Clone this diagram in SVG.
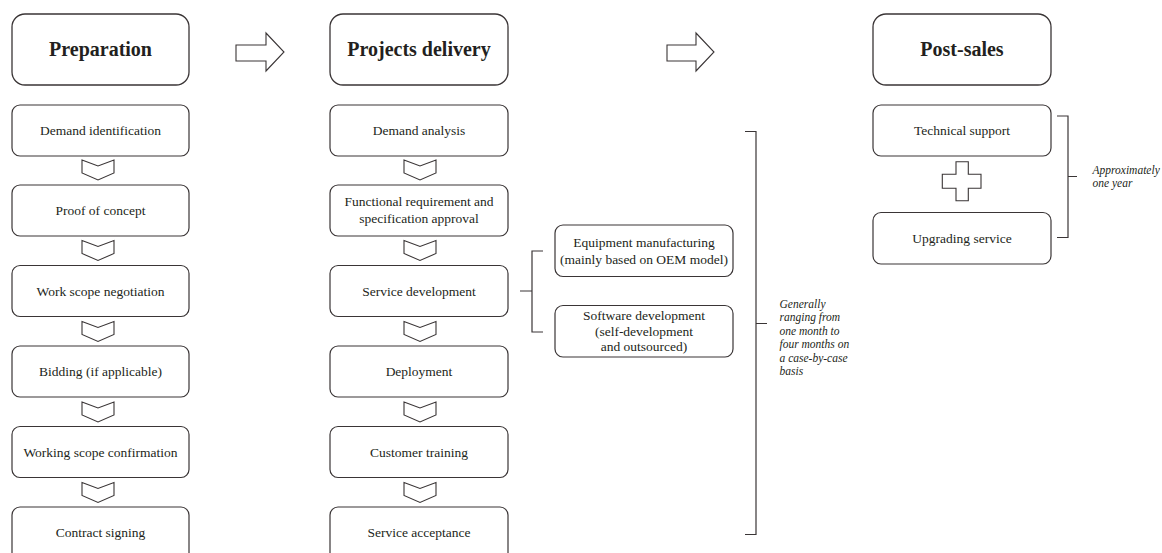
<svg xmlns="http://www.w3.org/2000/svg" xmlns:xlink="http://www.w3.org/1999/xlink" width="1162" height="553" viewBox="0 0 1162 553">
<style>
.hdr{fill:#fff;stroke:#3a3536;stroke-width:1.3}
.box{fill:#fff;stroke:#3a3536;stroke-width:1.2}
.ht{font-family:"Liberation Serif",serif;font-weight:bold;font-size:20px;fill:#231f20;text-anchor:middle}
.bt{font-family:"Liberation Serif",serif;font-size:13.5px;fill:#231f20;text-anchor:middle}
.it{font-family:"Liberation Serif",serif;font-style:italic;font-size:11.5px;fill:#231f20}
.ln{fill:none;stroke:#3a3536;stroke-width:1.2}
.sh{fill:#fff;stroke:#3a3536;stroke-width:1.1;stroke-linejoin:miter}
</style>
<defs>
<path id="chev" d="M0,0 L16,6 L32,0 V13 L16,20 L0,13 Z"/>
</defs>
<rect width="1162" height="553" fill="#fff"/>

<g id="connectors">
<path class="sh" d="M236,45 H266 V33 L284,52 L266,71 V61 H236 Z"/>
<path class="sh" d="M667,45 H696 V33 L714,52 L696,71 V61 H667 Z"/>
<use href="#chev" class="sh" x="82" y="160"/>
<use href="#chev" class="sh" x="82" y="240.5"/>
<use href="#chev" class="sh" x="82" y="321.5"/>
<use href="#chev" class="sh" x="82" y="402"/>
<use href="#chev" class="sh" x="82" y="482.5"/>
<use href="#chev" class="sh" x="404" y="160"/>
<use href="#chev" class="sh" x="404" y="240.5"/>
<use href="#chev" class="sh" x="404" y="321.5"/>
<use href="#chev" class="sh" x="404" y="402"/>
<use href="#chev" class="sh" x="404" y="482.5"/>
<path class="sh" d="M956,161.7 H968.3 V174.3 H981 V188.3 H968.3 V200.7 H956 V188.3 H942.3 V174.3 H956 Z"/>
<path class="ln" d="M543,251 H532 V332 H543 M520,291 H532"/>
<path class="ln" d="M745,131.5 H756 V534.5 H745 M756,323.5 H767"/>
<path class="ln" d="M1057,116 H1068 V237.5 H1057 M1068,176.5 H1077"/>
</g>

<g id="preparation"><rect class="hdr" x="12" y="14" width="177" height="71" rx="13"/><text class="ht" x="100.5" y="56">Preparation</text></g>
<g id="projects-delivery"><rect class="hdr" x="330" y="14" width="178" height="71" rx="13"/><text class="ht" x="419" y="56">Projects delivery</text></g>
<g id="post-sales"><rect class="hdr" x="873" y="14" width="178" height="71" rx="13"/><text class="ht" x="962" y="56">Post-sales</text></g>

<g id="demand-identification"><rect class="box" x="12" y="105" width="177" height="51" rx="8"/><text class="bt" x="100.5" y="135">Demand identification</text></g>
<g id="proof-of-concept"><rect class="box" x="12" y="185" width="177" height="51" rx="8"/><text class="bt" x="100.5" y="215">Proof of concept</text></g>
<g id="work-scope-negotiation"><rect class="box" x="12" y="265.5" width="177" height="51" rx="8"/><text class="bt" x="100.5" y="295.5">Work scope negotiation</text></g>
<g id="bidding"><rect class="box" x="12" y="346" width="177" height="51" rx="8"/><text class="bt" x="100.5" y="376">Bidding (if applicable)</text></g>
<g id="working-scope-confirmation"><rect class="box" x="12" y="426.5" width="177" height="51" rx="8"/><text class="bt" x="100.5" y="456.5">Working scope confirmation</text></g>
<g id="contract-signing"><rect class="box" x="12" y="507" width="177" height="56" rx="8"/><text class="bt" x="100.5" y="537">Contract signing</text></g>

<g id="demand-analysis"><rect class="box" x="330" y="105" width="178" height="51" rx="8"/><text class="bt" x="419" y="135">Demand analysis</text></g>
<g id="functional-requirement"><rect class="box" x="330" y="185" width="178" height="51" rx="8"/><text class="bt" x="419" y="206">Functional requirement and</text><text class="bt" x="419" y="222.5">specification approval</text></g>
<g id="service-development"><rect class="box" x="330" y="265.5" width="178" height="51" rx="8"/><text class="bt" x="419" y="295.5">Service development</text></g>
<g id="deployment"><rect class="box" x="330" y="346" width="178" height="51" rx="8"/><text class="bt" x="419" y="376">Deployment</text></g>
<g id="customer-training"><rect class="box" x="330" y="426.5" width="178" height="51" rx="8"/><text class="bt" x="419" y="456.5">Customer training</text></g>
<g id="service-acceptance"><rect class="box" x="330" y="507" width="178" height="56" rx="8"/><text class="bt" x="419" y="537">Service acceptance</text></g>

<g id="equipment-manufacturing"><rect class="box" x="555" y="225" width="178" height="51.5" rx="8"/><text class="bt" x="644" y="247">Equipment manufacturing</text><text class="bt" x="644" y="263.5">(mainly based on OEM model)</text></g>
<g id="software-development"><rect class="box" x="555" y="305.5" width="178" height="51.5" rx="8"/><text class="bt" x="644" y="320">Software development</text><text class="bt" x="644" y="336">(self-development</text><text class="bt" x="644" y="351">and outsourced)</text></g>

<g id="technical-support"><rect class="box" x="873" y="105" width="178" height="51" rx="8"/><text class="bt" x="962" y="135">Technical support</text></g>
<g id="upgrading-service"><rect class="box" x="873" y="212.5" width="178" height="51.5" rx="8"/><text class="bt" x="962" y="242.5">Upgrading service</text></g>

<g id="note-delivery"><text class="it" x="779.5" y="307.5">Generally</text><text class="it" x="779.5" y="321">ranging from</text><text class="it" x="779.5" y="334.5">one month to</text><text class="it" x="779.5" y="348">four months on</text><text class="it" x="779.5" y="361.5">a case-by-case</text><text class="it" x="779.5" y="375">basis</text></g>
<g id="note-postsales"><text class="it" x="1092.5" y="174">Approximately</text><text class="it" x="1092.5" y="186.5">one year</text></g>
</svg>
